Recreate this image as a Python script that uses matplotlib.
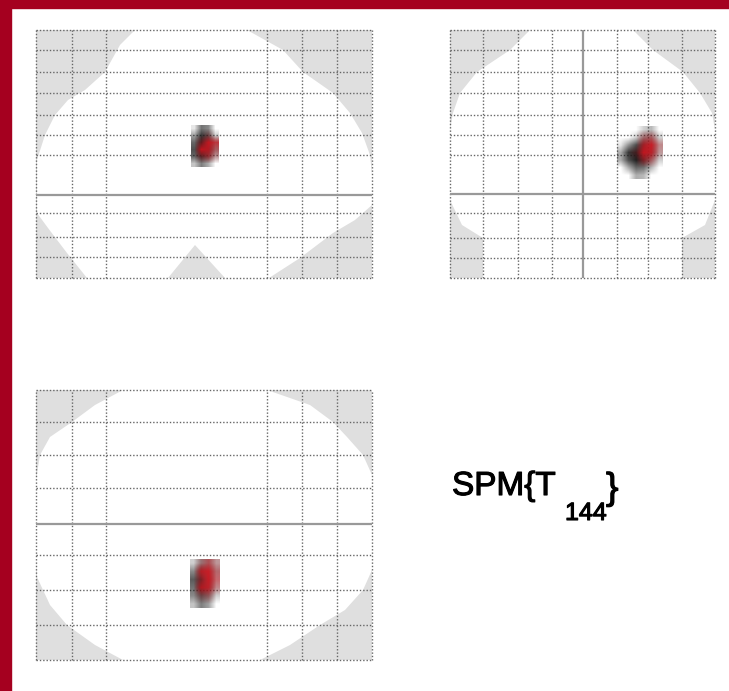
import numpy as np
import matplotlib
matplotlib.use('Agg')
import matplotlib.pyplot as plt
import matplotlib.patheffects as pe
from matplotlib.patches import Rectangle

W, H = 729, 691

# ---- glass brain views: offsets from the crosshair (px) ----
# sagittal
sag_xlim = (-168, 168)
sag_ylim = (-83, 165)
sag_vgrid = [-168, -132, -98, 63, 98, 133, 168]
sag_hgrid = [165, 145, 123, 102, 80, 60, 40, -18, -42, -62, -83]
sag_outline_x = [-69, 43, 79, 99, 129, 146, 158, 166, 168, 168, 151, 129, 96, 65,
                 21, -9, -36, -117, -137, -156, -167, -167, -159, -149, -136, -119, -99, -84]
sag_outline_y = [165, 165, 145, 123, 102, 82, 62, 40, 20, -10, -25, -38, -63, -83,
                 -83, -50, -83, -83, -58, -33, -18, 35, 60, 80, 95, 105, 123, 150]
sag_blob_ext = (-13, 15, 28, 70)
sag_blob_grey = [[0.1, 0.6, 0.5, 0.0],
                 [0.4, 0.85, 0.75, 0.2],
                 [0.65, 0.95, 0.85, 0.5],
                 [0.75, 0.95, 0.85, 0.5],
                 [0.65, 0.9, 0.75, 0.3],
                 [0.25, 0.55, 0.35, 0.0]]
sag_blob_red = [[0.0, 0.0, 0.0, 0.0],
                [0.0, 0.0, 0.2, 0.0],
                [0.0, 0.4, 0.9, 0.7],
                [0.0, 0.9, 0.8, 0.4],
                [0.0, 0.3, 0.5, 0.2],
                [0.0, 0.0, 0.0, 0.0]]

# coronal
cor_xlim = (-133, 132)
cor_ylim = (-84, 164)
cor_vgrid = [-133, -100, -65, -31, 34, 65, 99, 132]
cor_hgrid = [164, 144, 122, 101, 79, 59, 39, -19, -44, -64, -84]
cor_outline_x = [-53, 50, 70, 100, 117, 129, 132, 132, 122, 99, 99,
                 -100, -100, -121, -133, -133, -130, -123, -106, -73]
cor_outline_y = [164, 164, 144, 122, 101, 81, 64, -6, -31, -44, -84,
                 -84, -44, -31, -6, 64, 81, 101, 122, 144]
cor_blob_ext = (34, 80, 15, 68)
cor_blob_grey = [[0.0, 0.0, 0.0, 0.2, 0.3, 0.0],
                 [0.0, 0.0, 0.2, 0.5, 0.5, 0.2],
                 [0.1, 0.45, 0.75, 0.85, 0.6, 0.3],
                 [0.35, 0.85, 0.95, 0.9, 0.7, 0.3],
                 [0.35, 0.75, 0.95, 0.9, 0.5, 0.2],
                 [0.0, 0.35, 0.65, 0.6, 0.3, 0.0],
                 [0.0, 0.0, 0.35, 0.3, 0.0, 0.0]]
cor_blob_red = [[0.0, 0.0, 0.0, 0.0, 0.0, 0.0],
                [0.0, 0.0, 0.0, 0.3, 0.4, 0.0],
                [0.0, 0.0, 0.0, 0.7, 0.9, 0.3],
                [0.0, 0.0, 0.2, 0.9, 0.8, 0.2],
                [0.0, 0.0, 0.0, 0.5, 0.4, 0.0],
                [0.0, 0.0, 0.0, 0.0, 0.0, 0.0],
                [0.0, 0.0, 0.0, 0.0, 0.0, 0.0]]

# transverse
tra_xlim = (-168, 168)
tra_ylim = (-136, 134)
tra_vgrid = [-168, -132, -98, 63, 98, 133, 168]
tra_hgrid = [134, 102, 69, 36, -31, -66, -101, -136]
tra_outline_x = [-81, 63, 106, 129, 143, 159, 168, 168, 159, 141, 116, 86, 56,
                 -81, -109, -137, -154, -167, -168, -168, -164, -154, -132, -109]
tra_outline_y = [134, 134, 119, 102, 87, 69, 49, -46, -66, -86, -101, -121, -136,
                 -136, -121, -101, -81, -53, -36, 44, 69, 87, 102, 119]
tra_blob_ext = (-14, 16, -84, -35)
tra_blob_grey = [[0.2, 0.5, 0.5, 0.3],
                 [0.5, 0.8, 0.6, 0.4],
                 [0.7, 0.9, 0.7, 0.3],
                 [0.6, 0.9, 0.7, 0.3],
                 [0.5, 0.75, 0.6, 0.2],
                 [0.25, 0.55, 0.4, 0.0]]
tra_blob_red = [[0.0, 0.2, 0.5, 0.2],
                [0.0, 0.8, 0.9, 0.4],
                [0.0, 0.5, 0.9, 0.5],
                [0.0, 0.8, 0.8, 0.3],
                [0.0, 0.2, 0.3, 0.0],
                [0.0, 0.0, 0.0, 0.0]]


def px_axes(fig, left, top, width, height):
    return fig.add_axes([left / W, 1 - (top + height) / H, width / W, height / H])


def blob_rgba(values, rgb):
    v = np.array(values, dtype=float)
    img = np.zeros(v.shape + (4,))
    img[..., 0], img[..., 1], img[..., 2] = rgb
    img[..., 3] = v
    return img


def glass_view(ax, xlim, ylim, vgrid, hgrid, ox, oy, ext, grey, red, vcross=False):
    ax.set_facecolor('#dfdfdf')
    ax.fill(ox, oy, color='white', lw=0, zorder=1)
    ax.imshow(blob_rgba(grey, (0.08, 0.08, 0.08)), extent=ext, origin='upper',
              interpolation='bilinear', aspect='auto', zorder=4)
    ax.imshow(blob_rgba(red, (0.82, 0.08, 0.12)), extent=ext, origin='upper',
              interpolation='bilinear', aspect='auto', zorder=5)
    for gx in vgrid:
        ax.axvline(gx, color='#666666', lw=1.0, ls=(0, (1, 1.4)), zorder=3, clip_on=False)
    for gy in hgrid:
        ax.axhline(gy, color='#666666', lw=1.0, ls=(0, (1, 1.4)), zorder=3, clip_on=False)
    ax.axhline(0, color='#999999', lw=1.6, zorder=3)
    if vcross:
        ax.axvline(0, color='#999999', lw=1.6, zorder=3)
    ax.set_xlim(xlim)
    ax.set_ylim(ylim)
    ax.set_xticks([])
    ax.set_yticks([])
    for s in ax.spines.values():
        s.set_visible(False)


fig = plt.figure(figsize=(W / 100, H / 100), dpi=100)
fig.patch.set_facecolor('white')

# red frame on left and top
fig.patches.append(Rectangle((0, 0), 11 / W, 1, transform=fig.transFigure,
                             color='#a5001f', zorder=0))
fig.patches.append(Rectangle((0, 1 - 8 / H), 1, 8 / H, transform=fig.transFigure,
                             color='#a5001f', zorder=0))

ax1 = px_axes(fig, 36, 30, 336, 248)
glass_view(ax1, sag_xlim, sag_ylim, sag_vgrid, sag_hgrid, sag_outline_x, sag_outline_y,
           sag_blob_ext, sag_blob_grey, sag_blob_red)

ax2 = px_axes(fig, 450, 30, 265, 248)
glass_view(ax2, cor_xlim, cor_ylim, cor_vgrid, cor_hgrid, cor_outline_x, cor_outline_y,
           cor_blob_ext, cor_blob_grey, cor_blob_red, vcross=True)

ax3 = px_axes(fig, 36, 390, 336, 270)
glass_view(ax3, tra_xlim, tra_ylim, tra_vgrid, tra_hgrid, tra_outline_x, tra_outline_y,
           tra_blob_ext, tra_blob_grey, tra_blob_red)

# statistic label
fnt = 'Liberation Sans'
thick = [pe.withStroke(linewidth=0.8, foreground='black')]
fig.text(452 / W, 1 - 495 / H, 'SPM{T', fontsize=24, family=fnt, va='baseline',
         ha='left', path_effects=thick)
fig.text(565 / W, 1 - 520 / H, '144', fontsize=18, family=fnt, va='baseline',
         ha='left', path_effects=thick)
fig.text(606 / W, 1 - 499 / H, '}', fontsize=27, family=fnt, va='baseline',
         ha='left', path_effects=thick)

fig.savefig('out.png', dpi=100)
